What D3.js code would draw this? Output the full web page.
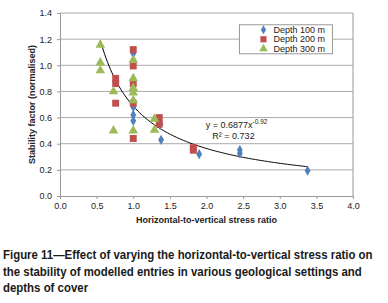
<!DOCTYPE html>
<html>
<head>
<meta charset="utf-8">
<script src="https://cdn.jsdelivr.net/npm/d3@7"></script>
<style>
  body { margin: 0; background: #fff; }
  svg { display: block; }
  .axis text { font-family: "Liberation Sans", Arial, sans-serif; font-size: 9px; fill: #222; }
  .axis path, .axis line { stroke: #999; }
  .grid line { stroke: #aaa; }
</style>
</head>
<body>
<div id="chart"></div>
<script>
// data: [stress ratio, stability factor]
const depth100 = [[1.0, 1.09], [1.0, 0.68], [1.0, 0.62], [1.0, 0.575], [1.37, 0.55],
    [1.38, 0.43], [1.9, 0.32], [2.455, 0.352], [2.455, 0.326], [3.38, 0.194]];
const depth200 = [[0.76, 0.90], [0.76, 0.86], [0.76, 0.71], [1.0, 1.12], [1.0, 0.995],
    [1.0, 0.86], [1.0, 0.71], [1.0, 0.44], [1.355, 0.60], [1.355, 0.55], [1.82, 0.37], [1.82, 0.35]];
const depth300 = [[0.55, 1.155], [0.55, 1.02], [0.55, 0.96], [0.73, 0.80], [0.73, 0.50],
    [1.0, 1.04], [1.0, 0.90], [1.0, 0.825], [1.0, 0.79], [1.0, 0.73], [1.0, 0.50],
    [1.29, 0.59], [1.29, 0.505]];

const seriesNames = ["Depth 100 m", "Depth 200 m", "Depth 300 m"];
const seriesColors = ["#4F81BD", "#C0504D", "#9BBB59"];
const xTicks = [0, 0.5, 1, 1.5, 2, 2.5, 3, 3.5, 4];
const yTicks = [0, 0.2, 0.4, 0.6, 0.8, 1.0, 1.2, 1.4];

// power trendline y = a * x^b
const trendA = 0.6877, trendB = -0.92, trendR2 = 0.732;
const trendRange = [0.55, 3.38];

const caption = [
    "Figure 11\u2014Effect of varying the horizontal-to-vertical stress ratio on",
    "the stability of modelled entries in various geological settings and",
    "depths of cover"
];

const W = 388, H = 303;
const margin = {top: 13, right: 35, bottom: 107, left: 60};
const width = W - margin.left - margin.right;
const height = H - margin.top - margin.bottom;

const svg = d3.select("#chart").append("svg")
    .attr("width", W)
    .attr("height", H);

const g = svg.append("g")
    .attr("transform", `translate(${margin.left},${margin.top})`);

const x = d3.scaleLinear().domain([0, 4]).range([0, width]);
const y = d3.scaleLinear().domain([0, 1.4]).range([height, 0]);

// gridlines
g.append("g").attr("class", "grid")
    .selectAll("line")
    .data(yTicks.slice(1))
    .join("line")
    .attr("x1", 0).attr("x2", width)
    .attr("y1", d => y(d)).attr("y2", d => y(d));

// right border
g.append("line")
    .attr("x1", width).attr("x2", width)
    .attr("y1", 0).attr("y2", height)
    .attr("stroke", "#999");

// axes
g.append("g")
    .attr("class", "axis")
    .call(d3.axisLeft(y).tickValues(yTicks).tickFormat(d3.format(".1f")).tickSize(3).tickPadding(5));

g.append("g")
    .attr("class", "axis")
    .attr("transform", `translate(0,${height})`)
    .call(d3.axisBottom(x).tickValues(xTicks).tickFormat(d3.format(".1f")).tickSize(3).tickPadding(4));

g.selectAll(".axis .domain").attr("stroke", "#999");

// trendline
const trendPts = d3.range(trendRange[0], trendRange[1] + 0.001, 0.02)
    .map(v => [v, trendA * Math.pow(v, trendB)]);
g.append("path")
    .datum(trendPts)
    .attr("fill", "none")
    .attr("stroke", "#000")
    .attr("stroke-width", 1)
    .attr("d", d3.line().x(d => x(d[0])).y(d => y(d[1])));

// markers
const shapes = [d3.symbolDiamond, d3.symbolSquare, d3.symbolTriangle];
const sizes = [30, 48, 40];
[depth100, depth200, depth300].forEach((data, i) => {
    g.append("g")
        .selectAll("path")
        .data(data)
        .join("path")
        .attr("transform", d => `translate(${x(d[0])},${y(d[1])})`)
        .attr("d", d3.symbol().type(shapes[i]).size(sizes[i]))
        .attr("fill", seriesColors[i]);
});

// trend equation
const eq = g.append("text")
    .attr("x", x(1.99))
    .attr("y", y(0.52))
    .attr("font-family", "Liberation Sans, Arial, sans-serif")
    .attr("font-size", 9)
    .attr("fill", "#222");
eq.append("tspan").text(`y = ${trendA}x`);
eq.append("tspan").attr("dy", -4).attr("font-size", 6.5).text(trendB.toFixed(2));

g.append("text")
    .attr("x", x(2.08))
    .attr("y", y(0.435))
    .attr("font-family", "Liberation Sans, Arial, sans-serif")
    .attr("font-size", 9)
    .attr("fill", "#222")
    .text(`R\u00B2 = ${trendR2}`);

// legend
const legend = g.append("g").attr("transform", `translate(${x(2.45)},${y(1.31)})`);
legend.append("rect")
    .attr("width", 93).attr("height", 29)
    .attr("fill", "#fff")
    .attr("stroke", "#999");
seriesNames.forEach((name, i) => {
    const row = legend.append("g").attr("transform", `translate(0,${5 + i * 9.5})`);
    row.append("path")
        .attr("transform", "translate(24,0)")
        .attr("d", d3.symbol().type(shapes[i]).size(sizes[i] * 0.8))
        .attr("fill", seriesColors[i]);
    row.append("text")
        .attr("x", 34).attr("y", 3)
        .attr("font-family", "Liberation Sans, Arial, sans-serif")
        .attr("font-size", 9)
        .attr("fill", "#222")
        .text(name);
});

// axis titles
g.append("text")
    .attr("x", width / 2)
    .attr("y", height + 27)
    .attr("text-anchor", "middle")
    .attr("font-family", "Liberation Sans, Arial, sans-serif")
    .attr("font-size", 9)
    .attr("font-weight", "bold")
    .attr("fill", "#222")
    .text("Horizontal-to-vertical stress ratio");

g.append("text")
    .attr("transform", `translate(-25,${height / 2}) rotate(-90)`)
    .attr("text-anchor", "middle")
    .attr("font-family", "Liberation Sans, Arial, sans-serif")
    .attr("font-size", 9)
    .attr("font-weight", "bold")
    .attr("fill", "#222")
    .text("Stability factor (normalised)");

// caption: the original face is condensed, so squeeze the group horizontally
const cap = svg.append("g");
cap.selectAll("text")
    .data(caption)
    .join("text")
    .attr("x", 0)
    .attr("y", (d, i) => 259 + i * 16.7)
    .attr("font-family", "Liberation Sans, Arial, sans-serif")
    .attr("font-size", 12.5)
    .attr("font-weight", "bold")
    .attr("fill", "#1a1a1a")
    .text(d => d);
const firstLen = cap.select("text").node().getComputedTextLength();
const sx = 370 / firstLen;
cap.attr("transform", `translate(3,0) scale(${sx},1)`);
</script>
</body>
</html>
